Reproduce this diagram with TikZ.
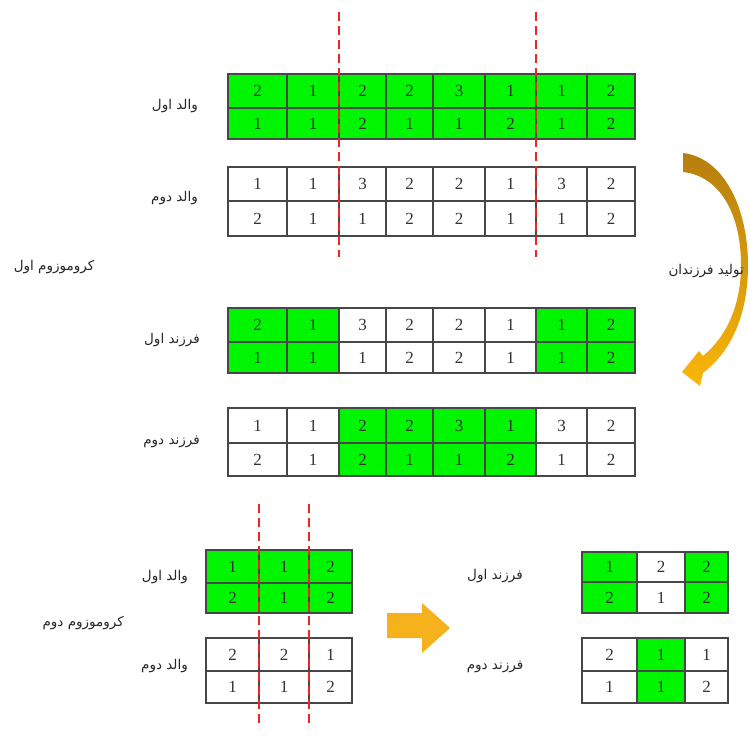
\documentclass[tikz,border=0pt]{standalone}
\usepackage{fontspec}
\setmainfont{Liberation Serif}
\newfontfamily\arabicfont[Script=Arabic]{DejaVu Sans}
\TeXXeTstate=1
\usetikzlibrary{calc}
\definecolor{cellgreen}{RGB}{0,245,0}
\definecolor{cutred}{RGB}{232,40,40}
\definecolor{arrdark}{RGB}{182,126,14}
\definecolor{arrlight}{RGB}{250,182,8}
\definecolor{arrorange}{RGB}{246,178,28}
\tikzset{
  cellline/.style={draw=black!72, line width=1.1pt},
  celltext/.style={font=\fontsize{17}{19}\selectfont, text=black!80, inner sep=0pt},
  lab/.style={font=\arabicfont\fontsize{13.5}{15}\selectfont, text=black!85, inner sep=0pt},
  cutline/.style={draw=cutred, line width=2.2pt, dash pattern=on 9pt off 5pt},
}
% #1 name, #2 top, #3 mid, #4 bottom, #5 list xa/xb/fill/v1/v2
\newcommand\drawgrid[5]{%
  \foreach \xa/\xb/\f/\va/\vb [count=\k] in {#5} {%
    \ifnum\f=1 \def\cc{cellgreen}\else\def\cc{white}\fi
    \path[cellline, fill=\cc] (\xa,#2) rectangle (\xb,#3);
    \path[cellline, fill=\cc] (\xa,#3) rectangle (\xb,#4);
    \node[celltext] (#1-a\k) at ({(\xa+\xb)/2},{(#2+#3)/2}) {\va};
    \node[celltext] (#1-b\k) at ({(\xa+\xb)/2},{(#3+#4)/2}) {\vb};
  }%
}
\begin{document}
\begin{tikzpicture}[x=1pt, y=-1pt]
\useasboundingbox (0,0) rectangle (750,738);
\fill[white] (0,0) rectangle (750,738);
% top section
\drawgrid{pa}{74}{108}{139}{228/287/1/2/1,287/339/1/1/1,339/386/1/2/2,386/433/1/2/1,433/485/1/3/1,485/536/1/1/2,536/587/1/1/1,587/635/1/2/2}
\drawgrid{pb}{167}{201}{236}{228/287/0/1/2,287/339/0/1/1,339/386/0/3/1,386/433/0/2/2,433/485/0/2/2,485/536/0/1/1,536/587/0/3/1,587/635/0/2/2}
\drawgrid{ca}{308}{342}{373}{228/287/1/2/1,287/339/1/1/1,339/386/0/3/1,386/433/0/2/2,433/485/0/2/2,485/536/0/1/1,536/587/1/1/1,587/635/1/2/2}
\drawgrid{cb}{408}{443}{476}{228/287/0/1/2,287/339/0/1/1,339/386/1/2/2,386/433/1/2/1,433/485/1/3/1,485/536/1/1/2,536/587/0/3/1,587/635/0/2/2}
\coordinate (c1t) at (339,12);
\coordinate (c1b) at (339,257);
\coordinate (c2t) at (536,12);
\coordinate (c2b) at (536,257);
\draw[cutline] (c1t) -- (c1b);
\draw[cutline] (c2t) -- (c2b);
\node[lab, anchor=east] (lpa) at (198,106) {\beginR والد اول\endR};
\node[lab, anchor=east] (lpb) at (198,198) {\beginR والد دوم\endR};
\node[lab, anchor=east] (lca) at (200,340) {\beginR فرزند اول\endR};
\node[lab, anchor=east] (lcb) at (200,442) {\beginR فرزند دوم\endR};
\node[lab] (lk1) at (54,267) {\beginR کروموزوم اول\endR};
% curved arrow
\shade[top color=arrdark, bottom color=arrlight]
  (683,153) .. controls (725,158) and (748,210) .. (748,265)
  .. controls (748,312) and (733,350) .. (703,373)
  -- (700,386) -- (682,372) -- (699,351) -- (703,356)
  .. controls (727,336) and (741,305) .. (741,265)
  .. controls (741,214) and (720,176) .. (683,172) -- cycle;
\node[lab, anchor=east] (lgen) at (744,271) {\beginR تولید فرزندان\endR};
% bottom section
\drawgrid{qa}{550}{583}{613}{206/259/1/1/2,259/309/1/1/1,309/352/1/2/2}
\drawgrid{qb}{638}{671}{703}{206/259/0/2/1,259/309/0/2/1,309/352/0/1/2}
\drawgrid{da}{552}{582}{613}{582/637/1/1/2,637/685/0/2/1,685/728/1/2/2}
\drawgrid{db}{638}{671}{703}{582/637/0/2/1,637/685/1/1/1,685/728/0/1/2}
\coordinate (c3t) at (259,504);
\coordinate (c3b) at (259,728);
\coordinate (c4t) at (309,504);
\coordinate (c4b) at (309,728);
\draw[cutline] (c3t) -- (c3b);
\draw[cutline] (c4t) -- (c4b);
\node[lab, anchor=east] (lqa) at (188,577) {\beginR والد اول\endR};
\node[lab, anchor=east] (lqb) at (188,666) {\beginR والد دوم\endR};
\node[lab, anchor=east] (lk2) at (124,623) {\beginR کروموزوم دوم\endR};
\node[lab] (lda) at (495,576) {\beginR فرزند اول\endR};
\node[lab] (ldb) at (495,667) {\beginR فرزند دوم\endR};
\fill[arrorange] (387,613) -- (422,613) -- (422,603) -- (450,628) -- (422,653) -- (422,638) -- (387,638) -- cycle;
\end{tikzpicture}
\end{document}
